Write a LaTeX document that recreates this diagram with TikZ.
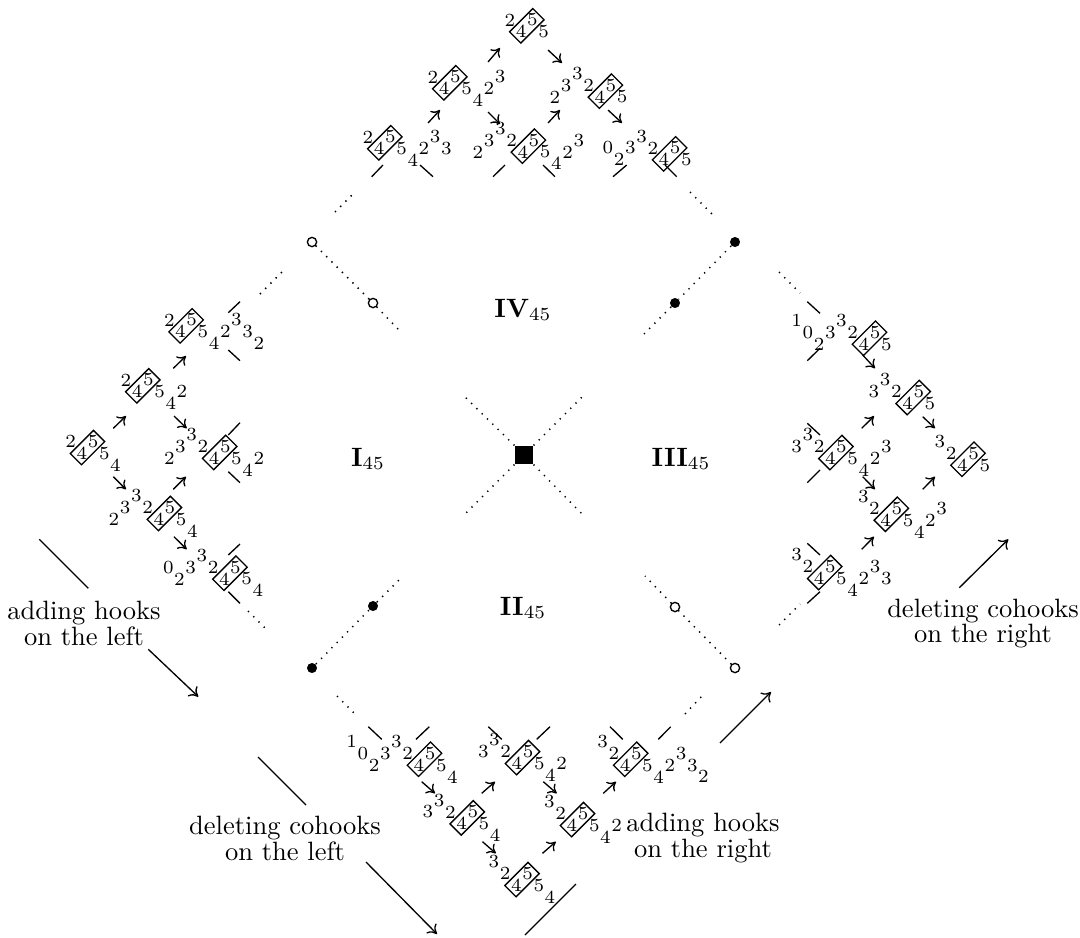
\documentclass[tikz,border=0pt]{standalone}
\usetikzlibrary{calc,arrows.meta}
\newcommand\dxx{11.2}
\newcommand\dyy{11.7}
\tikzset{
  x=0.3774pt, y=-0.3774pt,
  dig/.style={inner sep=0pt,font=\fontsize{7}{8}\selectfont},
  bx/.style={draw,line width=0.5pt,rotate=45,minimum width=12.4pt,minimum height=6pt,inner sep=0pt},
  tk/.style={line width=0.5pt},
  arr/.style={line width=0.5pt,-{To[length=3pt,width=4.8pt]}},
  bigarr/.style={line width=0.5pt,-{To[length=3.2pt,width=5.2pt]}},
  wall/.style={line width=0.55pt,dash pattern=on 0.5pt off 2.3pt},
  ocirc/.style={circle,draw,line width=0.5pt,minimum size=3.5pt,inner sep=0pt},
  fcirc/.style={circle,fill,minimum size=3.8pt,inner sep=0pt},
  reg/.style={anchor=base,font=\fontsize{10}{12}\selectfont},
  lab/.style={align=center,font=\fontsize{10}{9.8}\selectfont,inner sep=0pt}
}
% name, x, y, box index, box height, list digit/height
\newcommand\wrd[6]{%
  \coordinate (#1) at (#2,#3);
  \foreach \d/\h [count=\i from 0] in {#6}{%
    \node[dig] (#1-\i) at ($(#1)+({\i*\dxx},{-(\h)*\dyy})$) {\d};}
  \node[bx] (#1b) at ($(#1)+({(#4+0.5)*\dxx},{-(#5+0.5)*\dyy})$) {};
}
\newcommand\arw[3]{%
  \coordinate (#1s) at #2; \coordinate (#1e) at #3;
  \draw[arr] (#1s) -- (#1e);}
\begin{document}
\begin{tikzpicture}
\useasboundingbox (0,0) rectangle (1080,937);
% ---------------- centre and walls
\node[fill,minimum size=6.8pt,inner sep=0pt] (C) at (524,455) {};
\coordinate (c1) at (463,395); \coordinate (c2) at (584,395);
\coordinate (c3) at (463,516); \coordinate (c4) at (584,516);
\draw[wall] (C.north west) -- (c1);
\draw[wall] (C.north east) -- (c2);
\draw[wall] (C.south west) -- (c3);
\draw[wall] (C.south east) -- (c4);
% upper left wall
\node[ocirc] (ul1) at (312,242) {};
\node[ocirc] (ul2) at (373,303) {};
\coordinate (ul3) at (398,329);
\draw[wall] (ul1) -- (ul2); \draw[wall] (ul2) -- (ul3);
% upper right wall
\node[fcirc] (ur1) at (735,242) {};
\node[fcirc] (ur2) at (675,303) {};
\coordinate (ur3) at (644,334);
\draw[wall] (ur1) -- (ur2); \draw[wall] (ur2) -- (ur3);
% lower left wall
\node[fcirc] (ll1) at (312,668) {};
\node[fcirc] (ll2) at (373,606) {};
\coordinate (ll3) at (399,580);
\draw[wall] (ll1) -- (ll2); \draw[wall] (ll2) -- (ll3);
% lower right wall
\node[ocirc] (lr1) at (735,668) {};
\node[ocirc] (lr2) at (675,607) {};
\coordinate (lr3) at (645,576);
\draw[wall] (lr1) -- (lr2); \draw[wall] (lr2) -- (lr3);
% outer dotted pieces
\draw[wall] (260,294) -- (284,270);
\draw[wall] (335,212) -- (354,193);
\draw[wall] (690,192) -- (712,214);
\draw[wall] (779,272) -- (800,293);
\draw[wall] (337,696) -- (355,714);
\draw[wall] (248,611) -- (268,631);
\draw[wall] (685,714) -- (702,696);
\draw[wall] (779,625) -- (800,604);
% region labels
\node[reg] (IV) at (523,317) {\textbf{IV}$_{45}$};
\node[reg] (I) at (368,466) {\textbf{I}$_{45}$};
\node[reg] (III) at (681,466) {\textbf{III}$_{45}$};
\node[reg] (II) at (523,615) {\textbf{II}$_{45}$};
% ---------------- top cluster
\wrd{T1}{510}{20}{1}{-1}{2/0,4/-1,5/0,5/-1}
\wrd{T2}{433}{77}{1}{-1}{2/0,4/-1,5/0,5/-1,4/-2,2/-1,3/0}
\wrd{T3}{555}{97}{4}{0}{2/0,3/1,3/2,2/1,4/0,5/1,5/0}
\wrd{T4}{368}{137}{1}{-1}{2/0,4/-1,5/0,5/-1,4/-2,2/-1,3/0,3/-1}
\wrd{T5}{478}{152}{4}{0}{2/0,3/1,3/2,2/1,4/0,5/1,5/0,4/-1,2/0,3/1}
\wrd{T6}{608}{148}{5}{-1}{0/0,2/-1,3/0,3/1,2/0,4/-1,5/0,5/-1}
\arw{ta1}{(428,123)}{(440,110)}
\arw{ta2}{(488,62)}{(500,48)}
\arw{ta3}{(548,50)}{(562,63)}
\arw{ta4}{(488,112)}{(500,124)}
\arw{ta5}{(548,123)}{(560,110)}
\arw{ta6}{(608,110)}{(622,123)}
\draw[tk] (371.7,176.7) -- (383,165); \draw[tk] (420,165) -- (433,176.7);
\draw[tk] (493,176.7) -- (505,165); \draw[tk] (543,165) -- (555,176.7);
\draw[tk] (613,176.7) -- (626.7,165); \draw[tk] (665,165) -- (676.7,176.7);
% ---------------- left cluster
\wrd{L1}{70.7}{441.7}{1}{-1}{2/0,4/-1,5/0,5/-1,4/-2}
\wrd{L2}{126}{380}{1}{-1}{2/0,4/-1,5/0,5/-1,4/-2,2/-1}
\wrd{L3}{169.3}{320}{1}{-1}{2/0,4/-1,5/0,5/-1,4/-2,2/-1,3/0,3/-1,2/-2}
\wrd{L4}{114}{519.3}{4}{0}{2/0,3/1,3/2,2/1,4/0,5/1,5/0,4/-1}
\wrd{L5}{169.3}{458.3}{4}{0}{2/0,3/1,3/2,2/1,4/0,5/1,5/0,4/-1,2/0}
\wrd{L6}{168.3}{567.3}{5}{-1}{0/0,2/-1,3/0,3/1,2/0,4/-1,5/0,5/-1,4/-2}
\arw{la1}{(113.3,428.3)}{(126,416)}
\arw{la2}{(173.3,368.3)}{(186,356)}
\arw{la3}{(174,416)}{(186.7,428.3)}
\arw{la4}{(113.3,476.7)}{(126,489.3)}
\arw{la5}{(173.3,489.3)}{(186,476.7)}
\arw{la6}{(174,536.7)}{(186.7,549.3)}
\draw[tk] (228.3,312.7) -- (240,301.7); \draw[tk] (228.3,350) -- (240,360.7);
\draw[tk] (228.3,435) -- (240,422.7); \draw[tk] (228.3,471.7) -- (240,482.7);
\draw[tk] (228.3,555) -- (240,544); \draw[tk] (228.3,591.7) -- (240,603.3);
% ---------------- right cluster
\wrd{R1}{796.7}{320.7}{6}{-2}{1/0,0/-1,2/-2,3/-1,3/0,2/-1,4/-2,5/-1,5/-2}
\wrd{R2}{874}{391.7}{3}{-1}{3/0,3/1,2/0,4/-1,5/0,5/-1}
\wrd{R3}{940}{441.7}{2}{-2}{3/0,2/-1,4/-2,5/-1,5/-2}
\wrd{R4}{796.7}{446.7}{3}{-1}{3/0,3/1,2/0,4/-1,5/0,5/-1,4/-2,2/-1,3/0}
\wrd{R5}{863.3}{496.7}{2}{-2}{3/0,2/-1,4/-2,5/-1,5/-2,4/-3,2/-2,3/-1}
\wrd{R6}{796.7}{555}{2}{-2}{3/0,2/-1,4/-2,5/-1,5/-2,4/-3,2/-2,3/-1,3/-2}
\arw{ra1}{(862.7,355)}{(875,368.3)}
\arw{ra2}{(922.7,416.7)}{(935,428.3)}
\arw{ra3}{(861.7,428.3)}{(874,416)}
\arw{ra4}{(862.7,476.7)}{(875,489.3)}
\arw{ra5}{(922.7,489.3)}{(935,476.7)}
\arw{ra6}{(861.7,549.3)}{(874,536.7)}
\draw[tk] (807.3,301.7) -- (820,313.3); \draw[tk] (807.3,360.7) -- (820,348.3);
\draw[tk] (807.3,423.3) -- (820,435); \draw[tk] (807.3,482.7) -- (820,470);
\draw[tk] (807.3,543.3) -- (820,555); \draw[tk] (807.3,603.3) -- (820,591.7);
% ---------------- bottom cluster
\wrd{B1}{351.7}{741.7}{6}{-2}{1/0,0/-1,2/-2,3/-1,3/0,2/-1,4/-2,5/-1,5/-2,4/-3}
\wrd{B2}{483.3}{751.7}{3}{-1}{3/0,3/1,2/0,4/-1,5/0,5/-1,4/-2,2/-1}
\wrd{B3}{602.7}{741.7}{2}{-2}{3/0,2/-1,4/-2,5/-1,5/-2,4/-3,2/-2,3/-1,3/-2,2/-3}
\wrd{B4}{428}{812}{3}{-1}{3/0,3/1,2/0,4/-1,5/0,5/-1,4/-2}
\wrd{B5}{549.5}{802}{2}{-2}{3/0,2/-1,4/-2,5/-1,5/-2,4/-3,2/-2}
\wrd{B6}{494}{862}{2}{-2}{3/0,2/-1,4/-2,5/-1,5/-2,4/-3}
\arw{ba1}{(421.7,781.7)}{(435,793.3)}
\arw{ba2}{(481.7,793.3)}{(495,781.7)}
\arw{ba3}{(543.3,781.7)}{(556.7,793.3)}
\arw{ba4}{(603.3,793.3)}{(616,781.7)}
\arw{ba5}{(482.5,841.7)}{(495.8,853.3)}
\arw{ba6}{(542.5,853.3)}{(555.8,841.7)}
\draw[tk] (368.3,726.7) -- (381.7,739.3); \draw[tk] (416,739.3) -- (429.3,726.7);
\draw[tk] (488.3,726.7) -- (501.7,739.3); \draw[tk] (536.7,739.3) -- (550,726.7);
\draw[tk] (610,726.7) -- (622.7,739.3); \draw[tk] (658.3,739.3) -- (670.7,726.7);
% ---------------- side labels
\node[lab] (t1) at (84,623.5) {adding hooks\\on the left};
\coordinate (t1a) at (39.3,539.3); \coordinate (t1b) at (88.3,588.3);
\coordinate (t1c) at (148.3,649.3); \coordinate (t1d) at (198.3,696.7);
\draw[tk] (t1a) -- (t1b); \draw[bigarr] (t1c) -- (t1d);
\node[lab] (t2) at (983,623.5) {deleting cohooks\\on the right};
\coordinate (t2a) at (959.3,587.7); \coordinate (t2b) at (1008.3,539.3);
\draw[bigarr] (t2a) -- (t2b);
\node[lab] (t3) at (285,838) {deleting cohooks\\on the left};
\coordinate (t3a) at (258,757); \coordinate (t3b) at (306,805);
\coordinate (t3c) at (366,862); \coordinate (t3d) at (437,934);
\draw[tk] (t3a) -- (t3b); \draw[bigarr] (t3c) -- (t3d);
\node[lab] (t4) at (703,838) {adding hooks\\on the right};
\coordinate (t4a) at (720,743); \coordinate (t4b) at (771,692);
\coordinate (t4c) at (525,935); \coordinate (t4d) at (576,884);
\draw[bigarr] (t4a) -- (t4b); \draw[tk] (t4c) -- (t4d);
\end{tikzpicture}
\end{document}
